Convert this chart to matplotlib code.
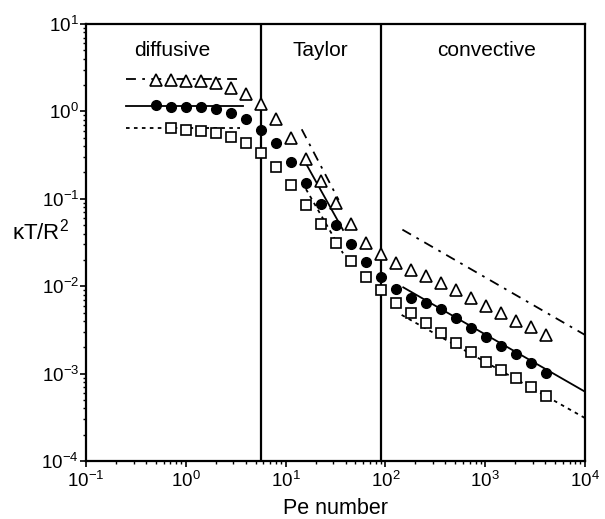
import matplotlib
matplotlib.use("Agg")
import matplotlib.pyplot as plt
from matplotlib.ticker import LogLocator, NullFormatter

plt.rcParams['font.family'] = ['Liberation Sans', 'DejaVu Sans']
plt.rcParams['mathtext.fontset'] = 'custom'
plt.rcParams['mathtext.rm'] = 'Liberation Sans'
plt.rcParams['mathtext.it'] = 'Liberation Sans:italic'
plt.rcParams['mathtext.default'] = 'regular'

# ---- data ----
pe = [0.5, 0.71, 1.0, 1.41, 2.0, 2.83, 4.0, 5.66, 8.0, 11.3, 16.0, 22.6, 32.0,
      45.3, 64.0, 90.5, 128, 181, 256, 362, 512, 724, 1024, 1448, 2048, 2896, 4096]

tri_y = [2.29, 2.27, 2.25, 2.25, 2.09, 1.84, 1.58, 1.22, 0.81, 0.49, 0.283, 0.161,
         0.090, 0.0515, 0.0315, 0.0233, 0.0186, 0.0153, 0.0131, 0.0110, 0.00906,
         0.00728, 0.00593, 0.00490, 0.00403, 0.00339, 0.00277]

circ_y = [1.18, 1.13, 1.13, 1.11, 1.06, 0.95, 0.81, 0.61, 0.43, 0.265, 0.153,
          0.0873, 0.050, 0.0301, 0.0191, 0.0128, 0.00923, 0.00728, 0.00637, 0.00544,
          0.00430, 0.00330, 0.00264, 0.00208, 0.00168, 0.00131, 0.00102]

sq_pe = pe[1:]
sq_y = [0.64, 0.61, 0.60, 0.56, 0.51, 0.43, 0.336, 0.229, 0.144, 0.085, 0.0515,
        0.031, 0.0196, 0.0129, 0.00906, 0.00647, 0.00498, 0.00376, 0.00289, 0.00226,
        0.00178, 0.00137, 0.00110, 0.000883, 0.000697, 0.000555]

# asymptotic fit lines (endpoints)
diff_x = [0.25, 3.7]
diff_tri = [2.33, 2.33]
diff_circ = [1.15, 1.15]
diff_sq_x = [0.25, 3.5]
diff_sq = [0.64, 0.64]

tay_tri_x = [14.5, 34.0]
tay_tri_y = [0.624, 0.097]
tay_circ_x = [15.6, 37.6]
tay_circ_y = [0.266, 0.044]
tay_sq_x = [16.0, 37.6]
tay_sq_y = [0.129, 0.0238]

conv_tri_x = [148, 10000]
conv_tri_y = [0.0444, 0.00277]
conv_circ_x = [151, 10000]
conv_circ_y = [0.0097, 0.000621]
conv_sq_x = [145.5, 10000]
conv_sq_y = [0.00469, 0.00031]

regime_bounds = [5.66, 90.5]
regime_labels = ['diffusive', 'Taylor', 'convective']

# ---- figure ----
fig = plt.figure(figsize=(6.05, 5.19), dpi=100)
ax = fig.add_axes([86/605, 1-461/519, 499/605, 437/519])
ax.set_xscale('log')
ax.set_yscale('log')
ax.set_xlim(1e-1, 1e4)
ax.set_ylim(1e-4, 1e1)

dashdot = (0, (5.5, 3.5, 1.5, 3.5))
dotted = (0, (2.0, 2.4))
lw = 1.3

for xs, ys in [(diff_x, diff_tri), (tay_tri_x, tay_tri_y), (conv_tri_x, conv_tri_y)]:
    ax.plot(xs, ys, color='black', lw=lw, linestyle=dashdot, zorder=2)
for xs, ys in [(diff_x, diff_circ), (tay_circ_x, tay_circ_y), (conv_circ_x, conv_circ_y)]:
    ax.plot(xs, ys, color='black', lw=lw, linestyle='-', zorder=2)
for xs, ys in [(diff_sq_x, diff_sq), (tay_sq_x, tay_sq_y), (conv_sq_x, conv_sq_y)]:
    ax.plot(xs, ys, color='black', lw=lw, linestyle=dotted, zorder=2)

for xb in regime_bounds:
    ax.axvline(xb, color='black', lw=1.6, zorder=1)

ax.plot(pe, tri_y, linestyle='none', marker='^', ms=8, mfc='white', mec='black',
        mew=1.2, zorder=3)
ax.plot(pe, circ_y, linestyle='none', marker='o', ms=7, mfc='black', mec='black',
        zorder=3)
ax.plot(sq_pe, sq_y, linestyle='none', marker='s', ms=6.5, mfc='white', mec='black',
        mew=1.2, zorder=3)

label_x = [0.172, 0.469, 0.802]
for lx, t in zip(label_x, regime_labels):
    ax.text(lx, 0.94, t, transform=ax.transAxes, ha='center', va='center', fontsize=15)

ax.set_xlabel('Pe number', fontsize=15.5, labelpad=5)
ax.set_ylabel('κT/R$^2$', fontsize=16, rotation=0, ha='center', va='center')
ax.yaxis.set_label_coords(-0.091, 0.524)

for s in ax.spines.values():
    s.set_linewidth(1.6)

ax.xaxis.set_major_locator(LogLocator(base=10, numticks=10))
ax.yaxis.set_major_locator(LogLocator(base=10, numticks=10))
ax.xaxis.set_minor_locator(LogLocator(base=10, subs=range(2, 10), numticks=20))
ax.yaxis.set_minor_locator(LogLocator(base=10, subs=range(2, 10), numticks=20))
ax.xaxis.set_minor_formatter(NullFormatter())
ax.yaxis.set_minor_formatter(NullFormatter())
ax.tick_params(which='major', direction='out', length=4, width=1.2, labelsize=13.5)
ax.tick_params(axis='x', which='major', pad=3)
ax.tick_params(axis='y', which='major', pad=1)
ax.tick_params(which='minor', direction='out', length=2.5, width=1.0)

fig.savefig('out.png', dpi=100)
